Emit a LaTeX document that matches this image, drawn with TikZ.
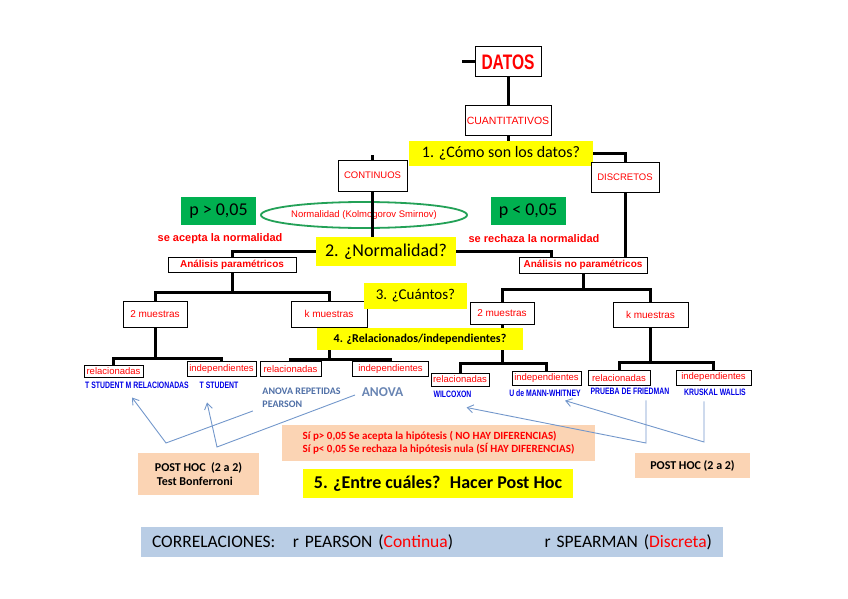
\documentclass[tikz,border=0pt]{standalone}
\usepackage{fontspec}
\setmainfont{Carlito}
\newfontfamily\arialfont{Liberation Sans}
\newfontfamily\narrowfont[FakeStretch=0.74]{Liberation Sans}
\usetikzlibrary{arrows.meta, positioning, shapes.geometric}

\definecolor{boxred}{HTML}{FF0000}
\definecolor{qyellow}{HTML}{FFFF00}
\definecolor{pgreen}{HTML}{00B050}
\definecolor{ovalgreen}{HTML}{23A157}
\definecolor{testblue}{HTML}{0000E6}
\definecolor{steel}{HTML}{4F6FA6}
\definecolor{arrowblue}{HTML}{7397CB}
\definecolor{peach}{HTML}{FBD4B4}
\definecolor{barblue}{HTML}{B9CDE5}

\begin{document}
\begin{tikzpicture}[
    x=1pt, y=-1pt,
    red box/.style={
        draw,
        line width=1pt,
        fill=white,
        text=boxred,
        inner sep=0pt,
        font=\arialfont\fontsize{9.5}{11}\selectfont
    },
    question/.style={
        fill=qyellow,
        inner sep=0pt,
        font=\fontsize{16}{19}\selectfont
    },
    p box/.style={
        fill=pgreen,
        inner sep=0pt,
        minimum width=75,
        minimum height=28,
        font=\fontsize{18}{21}\selectfont
    },
    red note/.style={
        text=boxred,
        inner sep=0pt,
        font=\arialfont\bfseries\fontsize{11}{12}\selectfont
    },
    test label/.style={
        text=testblue,
        inner sep=0pt,
        font=\narrowfont\bfseries\fontsize{9.3}{10}\selectfont
    },
    anova label/.style={
        text=steel,
        inner sep=0pt,
        font=\bfseries\fontsize{10}{13}\selectfont
    },
    hoc box/.style={
        fill=peach,
        inner sep=0pt,
        font=\bfseries\fontsize{12}{14.5}\selectfont
    },
    tree line/.style={line width=3pt},
    hoc arrow/.style={
        draw=arrowblue,
        line width=0.9pt,
        -{Straight Barb[length=6pt, width=8pt]}
    }
]

\useasboundingbox (0,0) rectangle (848,599);

% Tipo de datos
\node[red box, minimum width=66, minimum height=30,
      font=\narrowfont\bfseries\fontsize{21}{22}\selectfont] (datos) at (508,62) {DATOS};
\node[red box, minimum width=86, minimum height=29,
      font=\arialfont\fontsize{10.5}{12}\selectfont] (cuanti) at (508,120.5) {CUANTITATIVOS};
\node[question, minimum width=184, minimum height=25] (q1) at (501,153.5) {1. ¿Cómo son los datos?};
\node[red box, minimum width=69, minimum height=31] (continuos) at (372.5,175.5) {CONTINUOS};
\node[red box, minimum width=68, minimum height=30] (discretos) at (625,177) {DISCRETOS};

% Normalidad
\node[draw=ovalgreen, line width=1.8pt, ellipse, minimum width=172, minimum height=26,
      inner sep=0pt, text=boxred, font=\arialfont\fontsize{9.5}{11}\selectfont] (ks) at (364,215)
      {Normalidad (Kolmogorov Smirnov)};
\node[p box] (pmayor) at (218.5,211) {p > 0,05};
\node[p box] (pmenor) at (528,211) {p < 0,05};
\node[red note] (acepta) at (220,239) {se acepta la normalidad};
\node[red note] (rechaza) at (534,239) {se rechaza la normalidad};
\node[question, minimum width=140, minimum height=29,
      font=\fontsize{18}{21}\selectfont] (q2) at (386,251.5) {2. ¿Normalidad?};

\node[red box, minimum width=128, minimum height=15,
      font=\arialfont\bfseries\fontsize{10}{12}\selectfont] (param) at (232,265) {Análisis paramétricos};
\node[red box, minimum width=128, minimum height=16,
      font=\arialfont\bfseries\fontsize{10}{12}\selectfont] (noparam) at (583,265) {Análisis no paramétricos};

% Muestras
\node[red box, minimum width=64, minimum height=26, font=\arialfont\fontsize{10}{12}\selectfont] (dosL) at (155,314) {2 muestras};
\node[red box, minimum width=76, minimum height=26, font=\arialfont\fontsize{10}{12}\selectfont] (kL) at (329,314) {k muestras};
\node[red box, minimum width=64, minimum height=22, font=\arialfont\fontsize{10}{12}\selectfont] (dosR) at (502,313) {2 muestras};
\node[red box, minimum width=75, minimum height=25, font=\arialfont\fontsize{10}{12}\selectfont] (kR) at (650.5,314.5) {k muestras};

% Relacionadas / independientes
\node[red box, minimum width=59, minimum height=12] (relL1) at (113.5,371) {relacionadas};
\node[red box, minimum width=69, minimum height=15] (indL1) at (221.5,369) {independientes};
\node[red box, minimum width=61, minimum height=15] (relL2) at (290.5,369) {relacionadas};
\node[red box, minimum width=76, minimum height=15] (indL2) at (390.5,369) {independientes};
\node[red box, minimum width=58, minimum height=13] (relR1) at (460,379.5) {relacionadas};
\node[red box, minimum width=69, minimum height=14] (indR1) at (546.5,378) {independientes};
\node[red box, minimum width=62, minimum height=15] (relR2) at (619,378) {relacionadas};
\node[red box, minimum width=75, minimum height=15] (indR2) at (713.5,377.5) {independientes};

% Lineas del arbol
\draw[tree line] (datos.west) -- ++(-13,0);
\draw[tree line] (datos.south) -- (cuanti.north);
\draw[tree line] (cuanti.south) -- (cuanti.south |- q1.north);
\draw[tree line] (q1.east) -| (discretos.north);
\draw[tree line] (continuos.north) -- ++(0,-5);
\draw[tree line] (continuos.south) -- (continuos.south |- q2.north);
\draw[tree line] (q2.west) -| (param.north);
\draw[tree line] (q2.east) -| ([xshift=-32pt]noparam.north);
\draw[tree line] (discretos.south) -- (discretos.south |- noparam.north);
\draw[tree line] (param.south) -- ++(0,19) -| (dosL.north);
\draw[tree line] (param.south) -- ++(0,19) -| (kL.north);
\draw[tree line] (noparam.south) -- ++(0,16) -| (dosR.north);
\draw[tree line] (noparam.south) -- ++(0,16) -| (kR.north);
\draw[tree line] (dosL.south) -- ++(0,31) -| (relL1.north);
\draw[tree line] (dosL.south) -- ++(0,31) -| (indL1.north);
\draw[tree line] (kL.south) -- ++(0,32) -| (relL2.north);
\draw[tree line] (kL.south) -- ++(0,32) -| (indL2.north);
\draw[tree line] (dosR.south) -- ++(0,39) -| (relR1.north);
\draw[tree line] (dosR.south) -- ++(0,39) -| (indR1.north);
\draw[tree line] (kR.south) -- ++(0,35) -| (relR2.north);
\draw[tree line] (kR.south) -- ++(0,35) -| (indR2.north);

% Preguntas 3 y 4
\node[question, minimum width=103, minimum height=26,
      font=\fontsize{15}{18}\selectfont] (q3) at (415.5,296) {3. ¿Cuántos?};
\node[question, minimum width=206, minimum height=22,
      font=\bfseries\fontsize{12}{14}\selectfont] (q4) at (420,339) {4. ¿Relacionados/independientes?};

% Pruebas
\node[test label] (tsm) at (137,385) {T STUDENT M RELACIONADAS};
\node[test label] (tst) at (219,385) {T STUDENT};
\node[anova label, align=left] (anovarep) at (301.5,397.5) {ANOVA REPETIDAS\\PEARSON};
\node[anova label, text=steel!85, font=\bfseries\fontsize{13.5}{16}\selectfont] (anova) at (382.5,392.5) {ANOVA};
\node[test label] (wilc) at (452.5,394) {WILCOXON};
\node[test label] (mann) at (545,393) {U de MANN-WHITNEY};
\node[test label] (fried) at (630,391) {PRUEBA DE FRIEDMAN};
\node[test label] (krus) at (715,392) {KRUSKAL WALLIS};

% Post hoc
\node[hoc box, minimum width=121, minimum height=42, align=left] (postL) at (198.5,474)
    {POST HOC~ (2 a 2)\\\hspace*{2pt}Test Bonferroni};
\node[hoc box, minimum width=115, minimum height=25] (postR) at (692.5,465.5) {POST HOC (2 a 2)};
\node[hoc box, minimum width=313, minimum height=36, align=left, text=boxred,
      font=\bfseries\fontsize{11}{12.5}\selectfont] (notas) at (438.5,443)
    {Sí p> 0,05 Se acepta la hipótesis ( NO HAY DIFERENCIAS)\\Sí p< 0,05 Se rechaza la hipótesis nula (SÍ HAY DIFERENCIAS)};
\node[question, minimum width=270, minimum height=29,
      font=\bfseries\fontsize{18}{21}\selectfont] (q5) at (438,483.5) {5. ¿Entre cuáles?~ Hacer Post Hoc};

\coordinate (vL1) at (166,443);
\coordinate (vL2) at (217,447);
\coordinate (vR1) at (646,443);
\coordinate (vR2) at (704,442);

\draw[hoc arrow, shorten <=10pt] (anovarep.south west) -- (vL1) -- ([xshift=-5pt,yshift=-9pt]tsm.south);
\draw[hoc arrow, shorten <=7pt] (anova.west) -- (vL2) -- ([xshift=-12pt,yshift=-14pt]tst.south);
\draw[hoc arrow, shorten <=6pt] (vR1 |- fried.south) -- (vR1) -- ([xshift=14pt,yshift=-10pt]wilc.south);
\draw[hoc arrow, shorten <=6pt] (vR2 |- krus.south) -- (vR2) -- ([xshift=20pt,yshift=-4pt]mann.south);

% Correlaciones
\node[fill=barblue, minimum width=582, minimum height=30, inner sep=0pt, text width=560, align=left,
      font=\fontsize{17.5}{20}\selectfont] (correl) at (432,542)
    {CORRELACIONES:\ \ \ r PEARSON (\textcolor{boxred}{Continua})\hfill r SPEARMAN (\textcolor{boxred}{Discreta})};

\end{tikzpicture}
\end{document}
